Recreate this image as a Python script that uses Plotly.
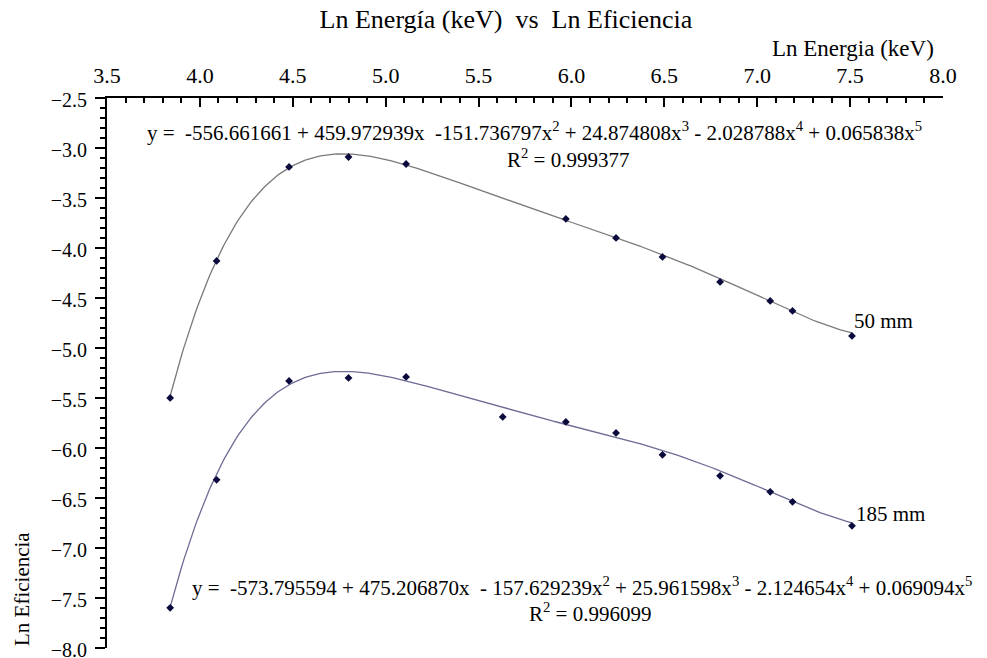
import numpy as np
import plotly.graph_objects as go

# Ln energy (keV) of each calibration line and Ln efficiency, two source distances
x_50 = [3.84, 4.09, 4.48, 4.80, 5.11, 5.97, 6.24, 6.49, 6.80, 7.07, 7.19, 7.51]
y_50 = [-5.50, -4.13, -3.19, -3.09, -3.16, -3.71, -3.90, -4.09, -4.34, -4.53, -4.63, -4.88]

x_185 = [3.84, 4.09, 4.48, 4.80, 5.11, 5.63, 5.97, 6.24, 6.49, 6.80, 7.07, 7.19, 7.51]
y_185 = [-7.60, -6.32, -5.33, -5.30, -5.29, -5.69, -5.74, -5.85, -6.07, -6.28, -6.44, -6.54, -6.78]

# 5th-degree polynomial fits (constant term first)
coef_50 = [-556.661661, 459.972939, -151.736797, 24.874808, -2.028788, 0.065838]
r2_50 = 0.999377
coef_185 = [-573.795594, 475.206870, -157.629239, 25.961598, -2.124654, 0.069094]
r2_185 = 0.996099

x_ticks = [3.5, 4.0, 4.5, 5.0, 5.5, 6.0, 6.5, 7.0, 7.5, 8.0]
y_ticks = [-2.5, -3.0, -3.5, -4.0, -4.5, -5.0, -5.5, -6.0, -6.5, -7.0, -7.5, -8.0]

FONT = "Liberation Serif, Times New Roman, serif"


def poly_curve(coef, xs):
    xx = np.linspace(min(xs), max(xs), 300)
    yy = np.polynomial.polynomial.polyval(xx, coef)
    return xx, yy


def equation_text(coef, spaced_minus):
    sup = {2: "<sup>2</sup>", 3: "<sup>3</sup>", 4: "<sup>4</sup>", 5: "<sup>5</sup>"}
    s = "y =\u00a0\u00a0-%.6f + %.6fx\u00a0\u00a0" % (abs(coef[0]), coef[1])
    s += ("- %.6fx" if spaced_minus else "-%.6fx") % abs(coef[2]) + sup[2]
    for p in (3, 4, 5):
        c = coef[p]
        s += (" + " if c >= 0 else " - ") + "%.6fx" % abs(c) + sup[p]
    return s


fig = go.Figure()

for xs, ys, coef, col in [(x_50, y_50, coef_50, "#7a7a7a"),
                          (x_185, y_185, coef_185, "#6c6c94")]:
    cx, cy = poly_curve(coef, xs)
    fig.add_trace(go.Scatter(x=cx, y=cy, mode="lines",
                             line=dict(color=col, width=1.3),
                             hoverinfo="skip", showlegend=False))
    fig.add_trace(go.Scatter(x=xs, y=ys, mode="markers",
                             marker=dict(symbol="diamond", size=6, color="#0a0a3c"),
                             showlegend=False))

W, H = 987, 658
L, R, T, B = 107, 44, 98, 10


def px(xp):
    return (xp - L) / (W - L - R)


def py(yp):
    return (H - B - yp) / (H - T - B)


def note(text, x, y, size, xanchor="center", angle=0):
    return dict(text=text, x=px(x), y=py(y), xref="paper", yref="paper",
                showarrow=False, xanchor=xanchor, yanchor="middle", textangle=angle,
                font=dict(family=FONT, size=size, color="black"))


annotations = [
    note(equation_text(coef_50, False), 534, 131, 21),
    note("R<sup>2</sup> = %.6f" % r2_50, 568, 158, 21),
    note("50 mm", 852, 321, 21, xanchor="left"),
    note("185 mm", 854, 514, 21, xanchor="left"),
    note(equation_text(coef_185, True), 582, 586, 21),
    note("R<sup>2</sup> = %.6f" % r2_185, 590, 612, 21),
    note("Ln Energia (keV)", 936, 49, 23, xanchor="right"),
    note("Ln Eficiencia", 22, 589, 21, angle=-90),
]

fig.update_layout(
    width=W, height=H,
    margin=dict(l=L, r=R, t=T, b=B, pad=0, autoexpand=False),
    paper_bgcolor="white", plot_bgcolor="white",
    title=dict(text="Ln Energía (keV)\u00a0\u00a0vs\u00a0\u00a0Ln Eficiencia",
               x=506 / W, xanchor="center", y=1 - 19 / H, yanchor="middle",
               yref="container", font=dict(family=FONT, size=26, color="black")),
    annotations=annotations,
    xaxis=dict(side="top", range=[3.5, 8.0], tickvals=x_ticks, tickformat=".1f",
               showgrid=False, zeroline=False, showline=True, linecolor="black", linewidth=2,
               ticks="inside", ticklen=9, tickwidth=2, tickcolor="black",
               minor=dict(dtick=0.1, ticks="inside", ticklen=5, tickwidth=1.5, tickcolor="black"),
               tickfont=dict(family=FONT, size=22, color="black"), ticklabelstandoff=4,
               ticklabeloverflow="allow", automargin=False),
    yaxis=dict(range=[-8.002, -2.5], tickvals=y_ticks, tickformat=".1f",
               showgrid=False, zeroline=False, showline=True, linecolor="black", linewidth=2,
               ticks="outside", ticklen=10, tickwidth=2, tickcolor="black",
               minor=dict(dtick=0.1, ticks="outside", ticklen=5, tickwidth=1.5, tickcolor="black"),
               tickfont=dict(family=FONT, size=20, color="black"), ticklabelstandoff=4,
               ticklabelshift=2, ticklabeloverflow="allow", automargin=False),
)

fig.write_html("out.html")
